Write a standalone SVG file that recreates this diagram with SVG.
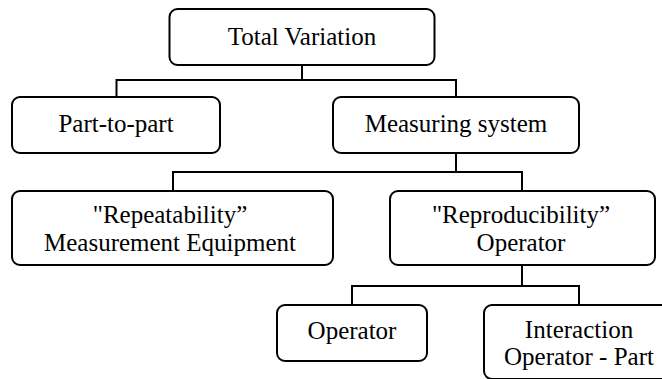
<svg xmlns="http://www.w3.org/2000/svg" width="662" height="379" viewBox="0 0 662 379">
  <style>
    .box { fill: #ffffff; stroke: #000000; stroke-width: 2; }
    .wire { fill: none; stroke: #000000; stroke-width: 2; }
    text { font-family: 'Liberation Serif', 'Times New Roman', 'DejaVu Serif', serif; font-size: 25px; fill: #000000; text-anchor: middle; }
  </style>
  <rect width="662" height="379" fill="#ffffff"/>

  <!-- connectors -->
  <g id="connectors">
    <path class="wire" d="M302 65 V80 M116.5 97 V80 H456 V97"/>
    <path class="wire" d="M456 153 V172 M173 191 V172 H522 V191"/>
    <path class="wire" d="M522 265 V286 M352 305 V286 H579 V305"/>
  </g>

  <g id="total-variation">
    <rect class="box" x="169.5" y="9" width="265" height="56" rx="8"/>
    <text x="302" y="45" font-family="Liberation Serif, serif">Total Variation</text>
  </g>

  <g id="part-to-part">
    <rect class="box" x="12" y="97" width="208" height="56" rx="8"/>
    <text x="116" y="132" font-family="Liberation Serif, serif">Part-to-part</text>
  </g>

  <g id="measuring-system">
    <rect class="box" x="333" y="97" width="246" height="56" rx="8"/>
    <text x="456" y="132" font-family="Liberation Serif, serif">Measuring system</text>
  </g>

  <g id="repeatability">
    <rect class="box" x="12" y="191" width="321" height="74" rx="8"/>
    <text x="170" y="223" font-family="Liberation Serif, serif">"Repeatability”</text>
    <text x="170" y="251" font-family="Liberation Serif, serif">Measurement Equipment</text>
  </g>

  <g id="reproducibility">
    <rect class="box" x="390" y="191" width="265" height="74" rx="8"/>
    <text x="521" y="223" font-family="Liberation Serif, serif">"Reproducibility”</text>
    <text x="521" y="251" font-family="Liberation Serif, serif">Operator</text>
  </g>

  <g id="operator">
    <rect class="box" x="277" y="305" width="150" height="56" rx="8"/>
    <text x="352" y="339" font-family="Liberation Serif, serif">Operator</text>
  </g>

  <g id="interaction">
    <rect class="box" x="484" y="305" width="190" height="74" rx="8"/>
    <text x="579" y="338" font-family="Liberation Serif, serif">Interaction</text>
    <text x="579" y="365" font-family="Liberation Serif, serif">Operator - Part</text>
  </g>
</svg>
